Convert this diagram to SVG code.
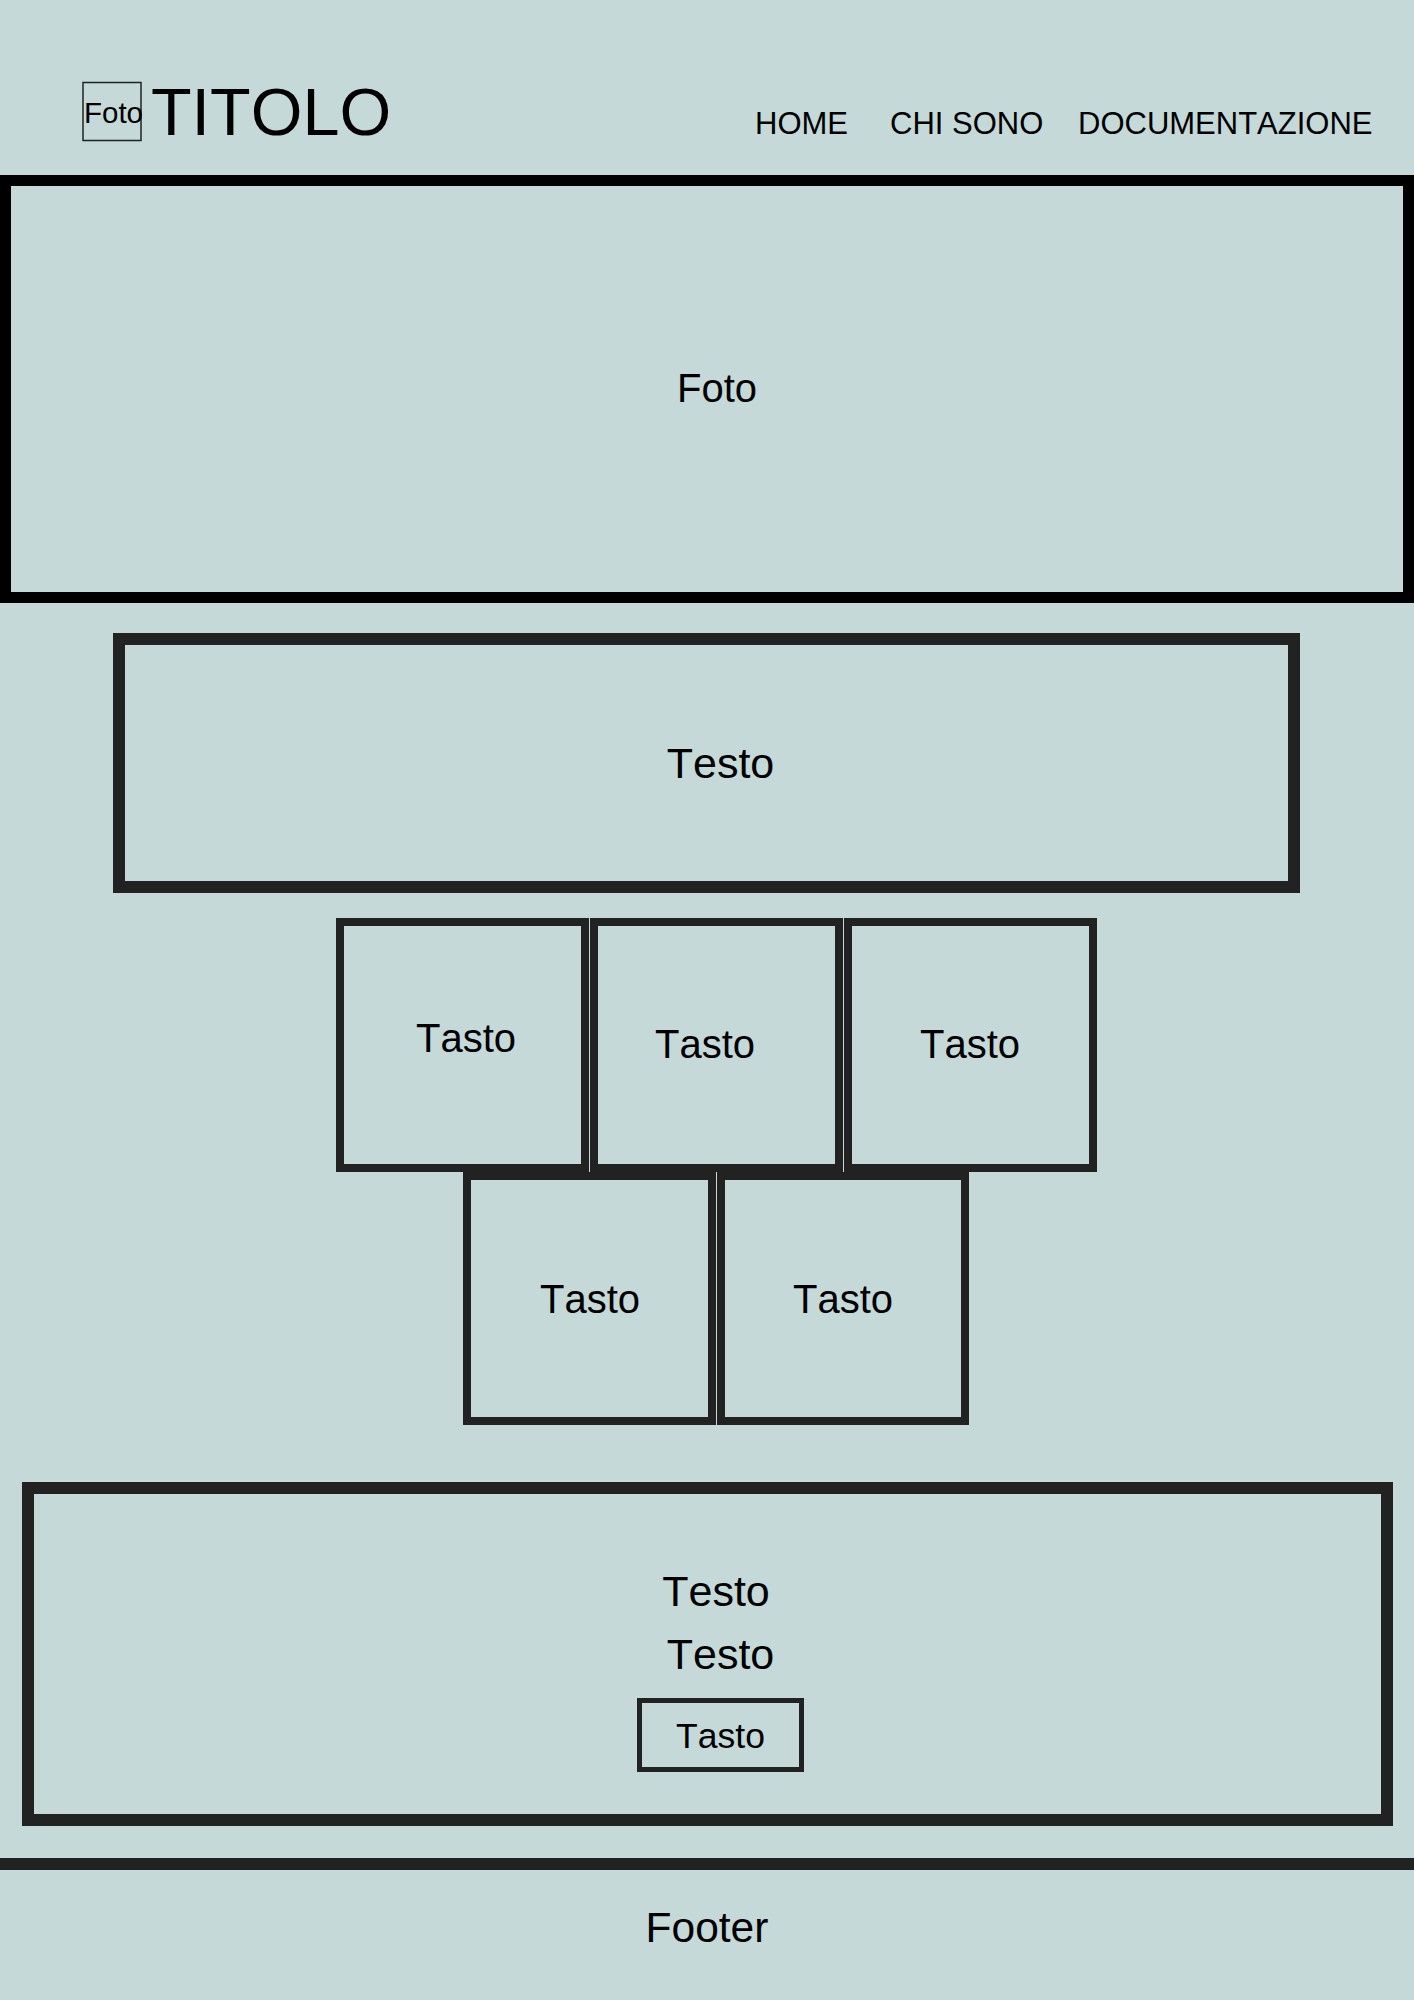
<svg xmlns="http://www.w3.org/2000/svg" width="1414" height="2000" viewBox="0 0 1414 2000">
<style>
text{font-family:"Liberation Sans",Arial,sans-serif;fill:#000;font-kerning:none}
.c{text-anchor:middle}
.box{fill:#c4d9d8;stroke:#222}
</style>
<rect x="0" y="0" width="1414" height="2000" fill="#c4d9d8"/>
<g id="header">
  <g id="logo">
    <rect x="83" y="82.5" width="58" height="58" fill="none" stroke="#222" stroke-width="1.5"/>
    <text x="84" y="123" font-size="29.5">Foto</text>
  </g>
  <text id="title" x="151" y="135" font-size="66.5">TITOLO</text>
  <g id="nav">
    <text x="755" y="134" font-size="31">HOME</text>
    <text x="890" y="134" font-size="31">CHI SONO</text>
    <text x="1078" y="134" font-size="31">DOCUMENTAZIONE</text>
  </g>
</g>
<g id="hero">
  <rect x="5.5" y="180.5" width="1403" height="417" fill="#c4d9d8" stroke="#000" stroke-width="11"/>
  <text class="c" x="717" y="402" font-size="40">Foto</text>
</g>
<g id="testo1">
  <rect class="box" x="119" y="639" width="1175" height="248" stroke-width="12"/>
  <text class="c" x="720.5" y="778" font-size="43">Testo</text>
</g>
<g id="tasto1">
  <rect class="box" x="340" y="922" width="245" height="246" stroke-width="8"/>
  <text class="c" x="466" y="1052" font-size="40">Tasto</text>
</g>
<g id="tasto2">
  <rect class="box" x="594" y="922" width="245" height="246" stroke-width="8"/>
  <text class="c" x="705" y="1058" font-size="40">Tasto</text>
</g>
<g id="tasto3">
  <rect class="box" x="848" y="922" width="245" height="246" stroke-width="8"/>
  <text class="c" x="970" y="1058" font-size="40">Tasto</text>
</g>
<g id="tasto4">
  <rect class="box" x="467" y="1176" width="245" height="245" stroke-width="8"/>
  <text class="c" x="590" y="1313" font-size="40">Tasto</text>
</g>
<g id="tasto5">
  <rect class="box" x="721" y="1176" width="244" height="245" stroke-width="8"/>
  <text class="c" x="843" y="1313" font-size="40">Tasto</text>
</g>
<g id="testo2">
  <rect class="box" x="28" y="1488" width="1359" height="332" stroke-width="12"/>
  <text class="c" x="716" y="1606" font-size="43">Testo</text>
  <text class="c" x="720.5" y="1669" font-size="43">Testo</text>
  <g id="tasto6">
    <rect class="box" x="639.5" y="1700.5" width="162" height="69" stroke-width="5"/>
    <text class="c" x="720.5" y="1748" font-size="35.5">Tasto</text>
  </g>
</g>
<g id="connectors">
  <line x1="0" y1="1864" x2="1414" y2="1864" stroke="#222" stroke-width="12"/>
</g>
<g id="footer">
  <text class="c" x="707" y="1942" font-size="42.5">Footer</text>
</g>
</svg>
